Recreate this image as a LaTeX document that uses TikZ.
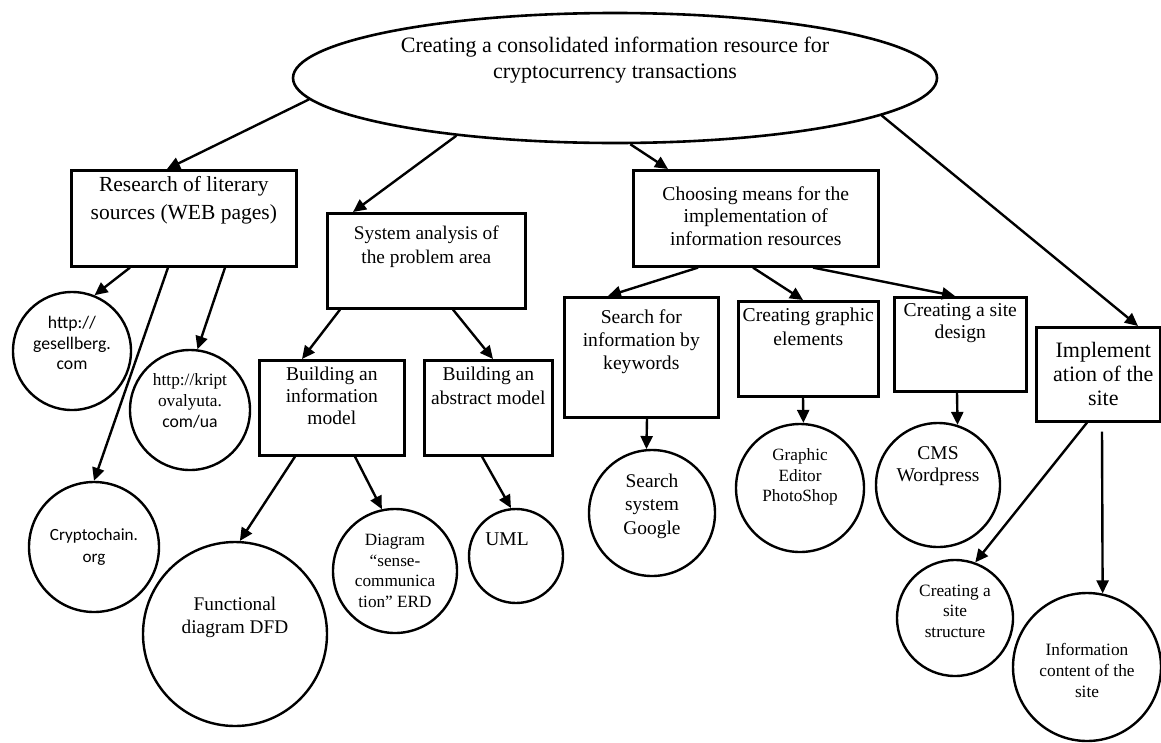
\documentclass[tikz,border=0pt]{standalone}
\usepackage{fontspec}
\setmainfont{Liberation Serif}
\newfontfamily\calibri{Carlito}
\usetikzlibrary{arrows.meta,shapes.geometric}
\newcommand{\fs}[2]{\fontsize{#1}{#2}\selectfont}
\begin{document}
\begin{tikzpicture}[x=1pt,y=-1pt,
  box/.style={draw, line width=2.6pt, rectangle, inner sep=0pt, anchor=north west},
  circ/.style={draw, circle, line width=2.4pt, inner sep=0pt},
  arr/.style={line width=2.4pt, -{Triangle[length=13pt,width=12pt]}},
  txt/.style={align=center, inner sep=0pt}
]
\useasboundingbox (0,0) rectangle (1161,742);

% root ellipse
\node[draw, ellipse, line width=2.6pt, minimum width=644pt, minimum height=130pt, inner sep=0pt,
  label={[txt, font=\fs{22}{26}, yshift=18pt]center:{Creating a consolidated information resource for\\cryptocurrency transactions}}] (top) at (615,78) {};

% boxes
\node[box, minimum width=225pt, minimum height=96pt,
  label={[txt, font=\fs{21.5}{28}, yshift=18pt]center:{Research of literary\\sources (WEB pages)}}] (research) at (70,169) {};
\node[box, minimum width=198pt, minimum height=95pt,
  label={[txt, font=\fs{19.3}{24}, yshift=14.5pt]center:{System analysis of\\the problem area}}] (system) at (326,212) {};
\node[box, minimum width=245pt, minimum height=96pt,
  label={[txt, font=\fs{19.6}{22.5}, yshift=2.5pt]center:{Choosing means for the\\implementation of\\information resources}}] (choosing) at (632,169) {};
\node[box, minimum width=145pt, minimum height=95pt,
  label={[txt, font=\fs{19.5}{22}, yshift=11.5pt]center:{Building an\\information\\model}}] (infomodel) at (258,359) {};
\node[box, minimum width=128pt, minimum height=95pt,
  label={[txt, font=\fs{19.5}{24}, yshift=21.5pt]center:{Building an\\abstract model}}] (abstract) at (423,359) {};
\node[box, minimum width=154pt, minimum height=120pt,
  label={[txt, font=\fs{19.6}{23}, yshift=16pt]center:{Search for\\information by\\keywords}}] (search) at (563,296) {};
\node[box, minimum width=140pt, minimum height=95pt,
  label={[txt, font=\fs{19.6}{24}, yshift=22.5pt]center:{Creating graphic\\elements}}] (graphic) at (737,300) {};
\node[box, minimum width=132pt, minimum height=94pt,
  label={[txt, font=\fs{19.6}{22}, yshift=21pt]center:{Creating a site\\design}}] (design) at (893,296) {};
\node[box, minimum width=124pt, minimum height=94pt,
  label={[txt, font=\fs{22}{24}, xshift=5pt]center:{Implement\\ation of the\\site}}] (impl) at (1035,326) {};

% circles
\node[circ, minimum size=118pt,
  label={[txt, font=\calibri\fs{17.7}{20.5}, yshift=8pt]center:{http://\\gesellberg.\\com}}] (gesell) at (72,351) {};
\node[circ, minimum size=120pt,
  label={[txt, font=\fs{17.3}{21}, yshift=9pt]center:{http://kript\\ovalyuta.\\{\calibri\fs{17.7}{21}com/ua}}}] (kript) at (190,410) {};
\node[circ, minimum size=130pt,
  label={[txt, font=\calibri\fs{17.1}{22}]center:{Cryptochain.\\org}}] (crypto) at (94,547) {};
\node[circ, minimum size=184pt,
  label={[txt, font=\fs{19.3}{23}, yshift=17pt]center:{Functional\\diagram DFD}}] (dfd) at (235,634) {};
\node[circ, minimum size=124pt,
  label={[txt, font=\fs{17.2}{20.7}]center:{Diagram\\“sense-\\communica\\tion” ERD}}] (erd) at (395,571) {};
\node[circ, minimum size=94pt,
  label={[txt, font=\fs{19.5}{22}, yshift=17pt, xshift=-9pt]center:{UML}}] (uml) at (516,556) {};
\node[circ, minimum size=126pt,
  label={[txt, font=\fs{19.4}{23.5}, yshift=7pt]center:{Search\\system\\Google}}] (google) at (652,513) {};
\node[circ, minimum size=128pt,
  label={[txt, font=\fs{17.2}{20.5}, yshift=11pt]center:{Graphic\\Editor\\PhotoShop}}] (photo) at (800,488) {};
\node[circ, minimum size=124pt,
  label={[txt, font=\fs{19.5}{22}, yshift=19pt]center:{CMS\\Wordpress}}] (cms) at (938,485) {};
\node[circ, minimum size=116pt,
  label={[txt, font=\fs{17.3}{20.5}, yshift=7pt]center:{Creating a\\site\\structure}}] (structure) at (955,618) {};
\node[circ, minimum size=148pt,
  label={[txt, font=\fs{17.3}{21}, yshift=-3pt]center:{Information\\content of the\\site}}] (content) at (1087,667) {};

% connectors from root
\draw[arr] (top.184.5) -- ([xshift=97pt]research.north west);
\draw[arr] (top.200) -- ([xshift=27pt]system.north west);
\draw[arr] (top.283) -- ([xshift=36pt]choosing.north west);
\draw[arr] (top.352.4) -- ([xshift=103pt]impl.north west);

% research
\draw[arr] ([xshift=60pt]research.south west) -- (gesell.68);
\draw[arr] ([xshift=98pt]research.south west) -- (crypto.90);
\draw[arr] ([xshift=155pt]research.south west) -- (kript.83);

% system analysis
\draw[arr] ([xshift=14pt]system.south west) -- ([xshift=44pt]infomodel.north west);
\draw[arr] ([xshift=127pt]system.south west) -- ([xshift=70pt]abstract.north west);
\draw[arr] ([xshift=37pt]infomodel.south west) -- (dfd.87);
\draw[arr] ([xshift=97pt]infomodel.south west) -- (erd.102);
\draw[arr] ([xshift=59pt]abstract.south west) -- (uml.96);

% choosing means
\draw[arr] ([xshift=66pt]choosing.south west) -- ([xshift=45pt]search.north west);
\draw[arr] ([xshift=121pt]choosing.south west) -- ([xshift=66pt]graphic.north west);
\draw[arr] ([xshift=181pt]choosing.south west) -- ([xshift=62pt]design.north west);
\draw[arr] ([xshift=84pt]search.south west) -- (google.95);
\draw[arr] ([xshift=66pt]graphic.south west) -- (photo.87);
\draw[arr] ([xshift=64pt]design.south west) -- (cms.72);

% implementation
\draw[arr] ([xshift=52pt]impl.south west) -- (structure.70);
\draw[arr] ([xshift=67pt,yshift=-9pt]impl.south west) -- (content.78);
\end{tikzpicture}
\end{document}
